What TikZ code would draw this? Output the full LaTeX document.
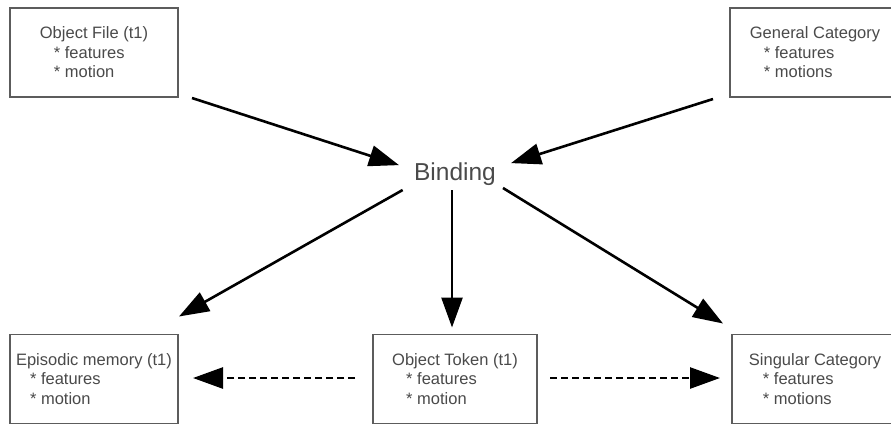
\documentclass[tikz,border=0pt]{standalone}
\usepackage{fontspec}
\setmainfont{Liberation Sans}
\usetikzlibrary{arrows.meta}
\definecolor{boxline}{HTML}{5C5C5C}
\definecolor{boxtext}{HTML}{4A4A4A}
\tikzstyle{cBox} = [rectangle, draw=boxline, line width=1.8pt, minimum width=168pt, minimum height=89pt, inner sep=0pt, outer sep=0pt, align=left, text=boxtext, font=\fontsize{16.5}{19.5}\selectfont]
\tikzstyle{cBinding} = [rectangle, minimum width=112pt, minimum height=32pt, inner sep=0pt, outer sep=0pt, text=boxtext, font=\fontsize{24.5}{28}\selectfont]
\tikzstyle{cArrow} = [line width=2.6pt, -{Triangle[length=30pt, width=21pt]}]
\tikzstyle{cDashArrow} = [cArrow, dash pattern=on 7pt off 4pt]

\begin{document}
\begin{tikzpicture}[x=1pt, y=-1pt]
    \fill [white] (0,0) rectangle (891,426);
    \useasboundingbox (0,0) rectangle (891,426);

    \node (objfile) [cBox] at (94,52.5) {Object File (t1)\\\hspace*{14pt}* features\\\hspace*{14pt}* motion};
    \node (gencat) [cBox, minimum width=170pt] at (815,52.5) {General Category\\\hspace*{14pt}* features\\\hspace*{14pt}* motions};
    \node (binding) [cBinding] at (455,174) {Binding};
    \node (episodic) [cBox] at (94,379) {Episodic memory (t1)\\\hspace*{14pt}* features\\\hspace*{14pt}* motion};
    \node (token) [cBox, minimum width=164pt] at (455,379) {Object Token (t1)\\\hspace*{14pt}* features\\\hspace*{14pt}* motion};
    \node (singcat) [cBox, minimum width=166pt] at (815,379) {Singular Category\\\hspace*{14pt}* features\\\hspace*{14pt}* motions};

    \draw [cArrow] ([shift={(14,1)}]objfile.south east) -- (binding.171);
    \draw [cArrow] ([shift={(-17,2)}]gencat.south west) -- (binding.11);
    \draw [cArrow] (binding.197) -- ([shift={(1,-18)}]episodic.north east);
    \draw [cArrow] ([shift={(-3,0)}]binding.south) -- ([shift={(-3,-7)}]token.north);
    \draw [cArrow] ([shift={(-8,-2)}]binding.south east) -- ([shift={(-9,-11)}]singcat.north west);
    \draw [cDashArrow] ([shift={(-18,-1)}]token.west) -- ([shift={(15,-1)}]episodic.east);
    \draw [cDashArrow] ([shift={(13,-1)}]token.east) -- ([shift={(-12,-1)}]singcat.west);
\end{tikzpicture}
\end{document}
